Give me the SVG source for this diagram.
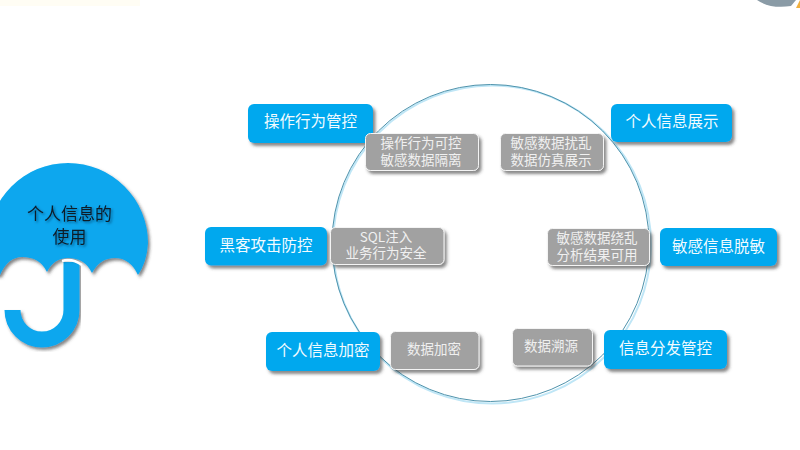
<svg xmlns="http://www.w3.org/2000/svg" width="800" height="450" viewBox="0 0 800 450">
  <defs>
    <filter id="shadow" x="-15%" y="-25%" width="130%" height="160%">
      <feDropShadow dx="2.5" dy="3" stdDeviation="1.6" flood-color="#3a3a3a" flood-opacity="0.6"/>
    </filter>
    <filter id="umbrella" x="-15%" y="-15%" width="130%" height="130%">
      <feDropShadow dx="2" dy="2.5" stdDeviation="1.5" flood-color="#333333" flood-opacity="0.6"/>
    </filter>
    <filter id="halo" x="-15%" y="-30%" width="130%" height="160%">
      <feDropShadow dx="1.5" dy="1.5" stdDeviation="1" flood-color="#0a4a78" flood-opacity="0.8"/>
    </filter>
  </defs>
  <style>
    .blue { fill: #04a8ee; filter: url(#shadow); }
    .gray { fill: #a1a1a1; stroke: #f4f4f4; stroke-width: 1; filter: url(#shadow); }
    .bt { font-family: "Noto Sans CJK SC", "Liberation Sans", sans-serif; font-size: 15.5px; fill: #f2fbff; text-anchor: middle; }
    .gt { font-family: "Noto Sans CJK SC", "Liberation Sans", sans-serif; font-size: 13.5px; fill: #f0f0f0; text-anchor: middle; }
    .ut { font-family: "Noto Sans CJK SC", "Liberation Sans", sans-serif; font-size: 17px; fill: #0b1a26; text-anchor: middle; filter: url(#halo); }
    .ring { fill: none; }
  </style>
  <rect width="800" height="450" fill="#ffffff"/>

  <g id="corner-marks">
    <rect x="0" y="0" width="140" height="6" fill="#fffdf4"/>
    <path d="M757,0 Q770,9 791,6 L796,0 Z" fill="#8a9ba6"/>
    <path d="M796,8 L800,0 L800,8 Z" fill="#f0b040"/>
  </g>

  <g id="connectors">
    <circle class="ring" cx="492" cy="244.500" r="159" stroke="#bfe6f6" stroke-width="2"/>
    <circle class="ring" cx="490.500" cy="243" r="158.500" stroke="#4f93ac" stroke-width="1"/>
  </g>

  <g id="umbrella-node">
    <path d="M71.500,262 V310 A29.500,29.500 0 0 1 12.500,310" fill="none" stroke="#09a7ee" stroke-width="16" filter="url(#umbrella)"/>
    <path d="M-12,243 A80,80 0 0 1 148,243 Q147,262 138,275 Q130,258 115,258 Q100,258 92,273 Q85,258 68,258 Q54,258 47,272 Q40,257 22,257 Q8,257 0,275 L-12,275 Z" fill="#09a7ee" filter="url(#umbrella)"/>
    <path d="M62,261 Q72,258 82,265" fill="none" stroke="#ffffff" stroke-width="2.500"/>
    <text class="ut" x="69.500" y="220">个人信息的</text>
    <text class="ut" x="69.500" y="243">使用</text>
  </g>

  <g id="node-behavior-control">
    <rect class="blue" x="248" y="104" width="125" height="39" rx="6"/>
    <text class="bt" x="310.500" y="127">操作行为管控</text>
  </g>
  <g id="node-hacker-defense">
    <rect class="blue" x="205" y="227" width="122" height="38.500" rx="6"/>
    <text class="bt" x="266" y="251">黑客攻击防控</text>
  </g>
  <g id="node-info-display">
    <rect class="blue" x="611" y="104" width="121" height="38" rx="6"/>
    <text class="bt" x="672" y="127">个人信息展示</text>
  </g>
  <g id="node-desensitize">
    <rect class="blue" x="660" y="228" width="117" height="38" rx="6"/>
    <text class="bt" x="718.500" y="252">敏感信息脱敏</text>
  </g>
  <g id="node-encrypt">
    <rect class="blue" x="266" y="332" width="114" height="39" rx="6"/>
    <text class="bt" x="323" y="356">个人信息加密</text>
  </g>
  <g id="node-distribution">
    <rect class="blue" x="604" y="330" width="123" height="39" rx="6"/>
    <text class="bt" x="665.500" y="354">信息分发管控</text>
  </g>

  <g id="note-behavior">
    <rect class="gray" x="365.500" y="133.500" width="113" height="37" rx="5"/>
    <text class="gt" x="421" y="148">操作行为可控</text>
    <text class="gt" x="421" y="165">敏感数据隔离</text>
  </g>
  <g id="note-display">
    <rect class="gray" x="500.500" y="133.500" width="103" height="37" rx="5"/>
    <text class="gt" x="551" y="148">敏感数据扰乱</text>
    <text class="gt" x="551" y="165">数据仿真展示</text>
  </g>
  <g id="note-hacker">
    <rect class="gray" x="330.500" y="227.500" width="113.500" height="37" rx="5"/>
    <text class="gt" x="386" y="242">SQL注入</text>
    <text class="gt" x="386" y="258">业务行为安全</text>
  </g>
  <g id="note-desensitize">
    <rect class="gray" x="547.500" y="228.500" width="102" height="37" rx="5"/>
    <text class="gt" x="597" y="243">敏感数据绕乱</text>
    <text class="gt" x="597" y="260">分析结果可用</text>
  </g>
  <g id="note-encrypt">
    <rect class="gray" x="390.500" y="331.500" width="88.500" height="38" rx="5"/>
    <text class="gt" x="434" y="354">数据加密</text>
  </g>
  <g id="note-trace">
    <rect class="gray" x="512.500" y="328.500" width="80" height="37.500" rx="5"/>
    <text class="gt" x="551" y="351">数据溯源</text>
  </g>
</svg>
